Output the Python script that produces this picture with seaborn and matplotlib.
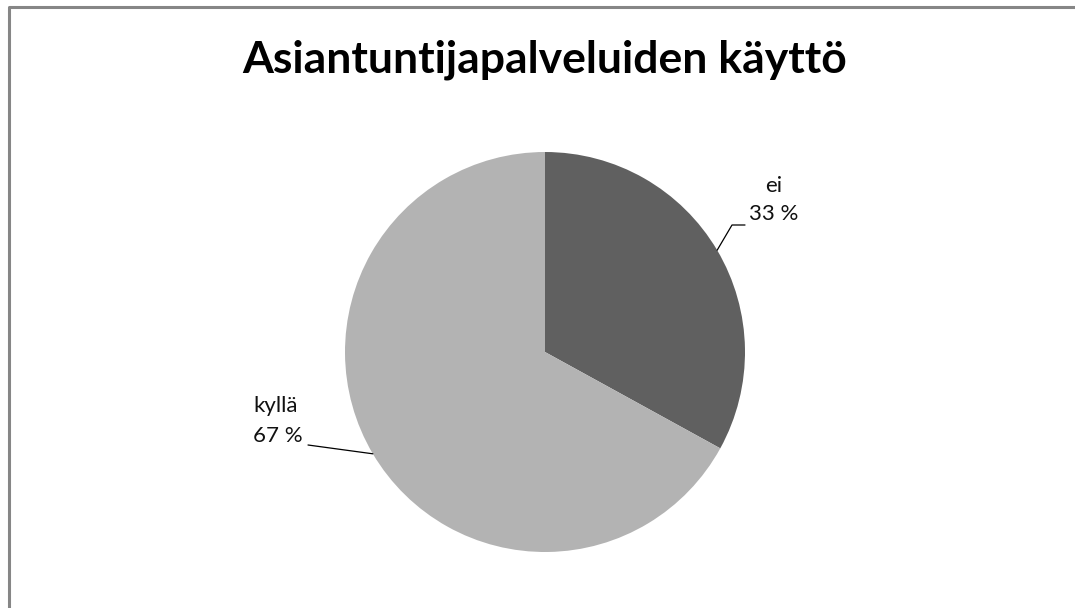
import numpy as np
import seaborn as sns
import matplotlib.pyplot as plt
from matplotlib.lines import Line2D

# data
vastaukset = ["ei", "kyllä"]
osuudet = [33, 67]
varit = ["#606060", "#b3b3b3"]
otsikko = "Asiantuntijapalveluiden käyttö"

sns.set_theme(style="white")
plt.rcParams['font.family'] = ['Lato', 'DejaVu Sans']

fig = plt.figure(figsize=(10.75, 6.08), dpi=100)
fig.patch.set_facecolor("white")

# pie axes: center (545,352), radius 200 px
ax = fig.add_axes([345/1075, 56/608, 400/1075, 400/608])
wedges, _ = ax.pie(osuudet, colors=varit, startangle=90, counterclock=False,
                   radius=1, wedgeprops=dict(linewidth=0))
ax.set_xlim(-1, 1)
ax.set_ylim(-1, 1)
ax.set_aspect("equal")
ax.axis("off")

# label positions (pie units, 200 px = 1), baselines of the two rows
tekstipaikat = [(1.145, 0.80, 0.66), (-1.46, -0.30, -0.45)]
tasaus = ["center", "left"]
taitos = [(0.935, 0.635, 1.0), (-1.185, -0.465, -1.185)]
for w, nimi, arvo, (tx, y1, y2), ha, (kx, ky, ex) in zip(
        wedges, vastaukset, osuudet, tekstipaikat, tasaus, taitos):
    kulma = np.deg2rad((w.theta1 + w.theta2) / 2)
    px, py = np.cos(kulma), np.sin(kulma)
    ax.add_line(Line2D([px, kx, ex], [py, ky, ky], color="black", lw=0.9, clip_on=False))
    ax.text(tx, y1, nimi, ha=ha, va="baseline", fontsize=16, color="#111111")
    ax.text(tx, y2, f"{arvo} %", ha=ha, va="baseline", fontsize=16, color="#111111")

fig.text(545/1075, 1 - 72/608, otsikko, ha="center", va="baseline",
         fontsize=32, fontweight="bold", color="black")

# frame (left + top edge)
fig.add_artist(Line2D([9/1075, 9/1075, 1], [0, 1 - 7/608, 1 - 7/608],
                      transform=fig.transFigure, color="#868686", lw=2.2))

fig.savefig("out.png", dpi=100, facecolor="white")
